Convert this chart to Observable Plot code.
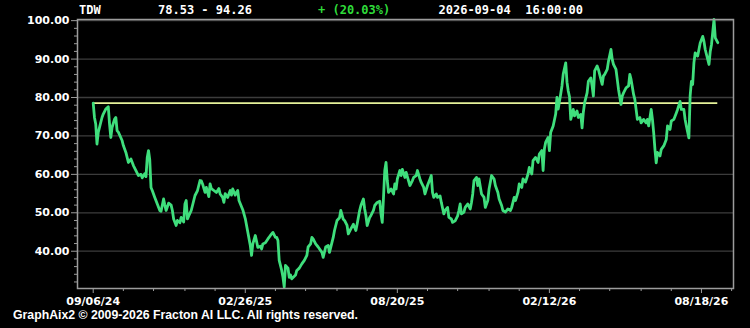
<!DOCTYPE html>
<html>
<head>
<meta charset="utf-8">
<script src="https://cdn.jsdelivr.net/npm/d3@7"></script>
<script src="https://cdn.jsdelivr.net/npm/@observablehq/plot@0.6"></script>
<style>
  html, body { margin: 0; padding: 0; background: #000; }
  #wrap { position: relative; width: 750px; height: 328px; background: #000; overflow: hidden; }
  #wrap svg.plot { position: absolute; left: 0; top: 0; }
  .hdr { position: absolute; top: 4px; font-family: "DejaVu Sans Mono", monospace; font-weight: bold; font-size: 12px; line-height: 12px; color: #fff; white-space: pre; }
  #footer { position: absolute; left: 13px; top: 308.5px; font-family: "Liberation Sans", Arial, sans-serif; font-weight: bold; font-size: 12.2px; line-height: 12.2px; color: #fff; white-space: pre; transform-origin: 0 0; }
</style>
</head>
<body>
<div id="wrap">
  <div class="hdr" style="left:79px">TDW</div>
  <div class="hdr" style="left:158px">78.53 - 94.26</div>
  <div class="hdr" style="left:318px;color:#2fdc3a">+ (20.03%)</div>
  <div class="hdr" style="left:438.5px">2026-09-04  16:00:00</div>
  <div id="footer">GraphAix2 © 2009-2026 Fracton AI LLC. All rights reserved.</div>
</div>
<script>
// ---- data (trading-day index since 09/06/24, closing price) ----
const symbol = "TDW";
const startPrice = 78.53;
const endPrice = 94.26;
const days = [
  0,1,2,3,4,6,7,8,10,12,13,14,15,17,18,19,20,23,24,26,27,28,30,32,34,36,38,39,41,42,43,44,45,46,47,49,51,53,54,56,57,58,60,62,63,64,66,67,69,70,72,73,74,75,76,78,79,81,83,85,86,87,89,90,92,93,94,96,98,100,101,103,104,105,107,109,110,111,113,114,115,116,
  119,121,123,125,126,127,129,131,133,134,135,137,139,141,143,145,146,147,148,150,151,152,153,155,156,157,158,161,162,164,166,168,170,171,173,174,175,177,179,182,183,185,187,188,190,191,192,194,196,197,199,200,202,203,205,207,209,210,212,213,215,216,217,218,220,221,223,224,226,228,229,230,231,232,233,234,235,237,239,240,241,242,244,245,246,248,249,
  252,254,255,257,258,260,261,263,264,266,268,269,270,271,273,274,276,277,279,280,282,283,285,286,288,290,291,292,293,295,296,298,300,301,302,303,305,306,307,309,311,312,314,315,317,319,320,322,323,325,326,328,330,332,333,335,336,338,339,341,342,344,346,347,349,350,352,354,355,357,358,359,360,362,363,364,366,368,369,370,372,373,374,376,377,378,379,380,382,383,385,386,388,389,390,391,393,394,396,397,398,399,401,402,404,405,406,407,409,410,412,413,414,416,417,418,420,421,422,424,426,427,428,430,431,432,433,435,436,438,440,441,442,444,445,446,447,448,449,451,452,454,456,457,459,460,462,464,465,467,468,470,471,472,474,475,476,477,478,479,481,482,483,485,486,487,488,490,491,492,494,495,497
];
const prices = [
  78.53,74.8,73.1,67.9,70.9,73.5,74.8,75.7,77.0,77.6,73.1,69.6,72.2,74.4,74.8,71.4,71.0,68.8,67.5,65.7,64.4,63.1,64.0,62.3,61.0,59.7,60.0,59.1,60.2,59.4,64.4,66.2,63.8,56.6,55.8,54.0,52.3,50.6,50.4,53.6,52.0,50.6,52.5,52.0,50.6,48.4,46.7,48.0,47.4,48.8,47.6,52.3,53.2,48.4,49.2,50.6,51.9,54.5,55.8,58.4,58.3,57.5,55.3,56.6,54.2,57.5,56.3,55.8,55.3,56.3,54.9,54.0,52.7,55.0,54.0,55.8,54.6,56.2,54.6,55.3,55.8,53.2,
  50.8,48.5,45.0,41.5,38.9,41.9,44.1,41.0,41.3,40.6,41.9,42.2,43.2,44.1,44.9,43.6,43.6,42.8,37.6,35.0,33.2,30.7,36.3,35.6,33.2,33.8,32.8,33.8,35.0,35.6,36.7,37.6,38.9,41.1,41.9,43.6,43.2,41.9,41.1,39.7,38.4,41.1,41.5,39.7,42.3,43.6,45.4,48.0,48.7,50.6,48.3,48.0,46.7,44.5,45.8,47.0,45.4,47.0,50.6,51.9,53.6,51.0,49.3,46.7,48.8,49.3,50.6,51.9,52.7,53.0,49.7,47.5,54.0,61.0,63.1,58.4,55.3,56.2,54.9,57.5,56.2,58.8,61.0,59.7,61.3,59.2,60.5,
  57.1,58.4,59.2,59.7,61.0,58.8,57.9,56.6,54.9,57.1,58.8,59.7,55.3,54.0,54.9,54.0,54.4,52.7,49.7,50.6,51.4,48.8,48.4,47.5,47.9,49.2,50.6,52.3,49.7,50.2,51.4,52.3,51.0,52.7,54.9,58.4,59.2,57.1,58.8,54.9,54.0,51.4,53.2,56.2,59.7,58.8,57.1,55.3,53.6,51.9,50.6,50.2,51.0,50.6,51.4,54.0,53.2,55.3,57.5,56.6,58.8,58.0,60.1,61.8,60.1,63.6,64.4,63.1,65.3,66.2,61.0,66.6,68.3,69.6,66.2,70.9,72.6,75.7,80.0,77.0,80.9,83.0,86.1,89.0,84.0,81.7,80.2,74.3,76.9,75.2,76.5,74.8,75.6,72.1,76.1,78.6,81.2,84.2,85.1,83.0,80.4,86.9,88.2,87.3,84.7,83.4,85.6,86.0,87.3,89.4,92.5,89.9,88.6,87.3,84.7,82.1,78.2,80.4,81.2,82.5,83.0,86.0,84.7,80.8,79.5,76.9,74.3,74.8,73.4,74.3,73.4,74.3,72.6,76.9,74.3,70.8,66.5,63.0,65.7,64.8,66.5,67.4,69.1,72.6,71.7,73.9,74.3,76.0,76.9,79.0,76.9,76.9,74.3,72.6,69.5,80.4,84.2,83.4,89.0,91.6,90.8,92.5,94.2,95.9,94.6,92.5,91.2,88.6,92.0,93.8,100.3,95.5,94.26
];
const xTickDays = [0, 121, 242, 363, 484];
const xTickLabels = ["09/06/24", "02/26/25", "08/20/25", "02/12/26", "08/18/26"];
const xMinorDays = [24, 48, 73, 97, 145, 169, 194, 218, 266, 290, 315, 339, 387, 411, 436, 460, 508];
const yTicks = [40, 50, 60, 70, 80, 90, 100];
const yMinor = [32, 34, 36, 38, 42, 44, 46, 48, 52, 54, 56, 58, 62, 64, 66, 68, 72, 74, 76, 78, 82, 84, 86, 88, 92, 94, 96, 98];

const series = days.map((d, i) => ({day: d, price: prices[i]}));
const lastDay = days[days.length - 1];
const labelOf = new Map(xTickDays.map((d, i) => [d, xTickLabels[i]]));

const chart = Plot.plot({
  width: 750,
  height: 328,
  marginLeft: 77,
  marginRight: 17,
  marginTop: 19,
  marginBottom: 40,
  style: {background: "#000", color: "#fff", fontFamily: "DejaVu Sans, sans-serif", fontSize: "11px", fontWeight: "bold", overflow: "visible"},
  x: {domain: [-12.5, 509.5], axis: null, label: null},
  y: {domain: [30.3, 100.3], axis: null, label: null},
  marks: [
    Plot.gridY(yTicks, {stroke: "#3c3c3c", strokeOpacity: 1, strokeWidth: 1.3}),
    Plot.ruleY([startPrice], {x1: 0, x2: lastDay, stroke: "#e6f29a", strokeWidth: 1.6}),
    Plot.line(series, {x: "day", y: "price", stroke: "#3fde7c", strokeWidth: 2.8, strokeLinejoin: "round"}),
    Plot.frame({stroke: "#9c9c9c", strokeWidth: 1.5}),
    Plot.axisY(yTicks, {tickSize: 6, tickPadding: 2, stroke: "#9c9c9c", label: null, tickFormat: d => d.toFixed(2)}),
    Plot.axisY(yMinor, {tickSize: 3, stroke: "#9c9c9c", label: null, tickFormat: () => ""}),
    Plot.axisX(xTickDays, {tickSize: 5, tickPadding: 4, stroke: "#9c9c9c", label: null, tickFormat: d => labelOf.get(d)}),
    Plot.axisX(xMinorDays, {tickSize: 3, stroke: "#9c9c9c", label: null, tickFormat: () => ""})
  ]
});
chart.classList.add("plot");
document.getElementById("wrap").insertBefore(chart, document.getElementById("wrap").firstChild);

// fit footer to its width in the reference
const f = document.getElementById("footer");
const w = f.getBoundingClientRect().width;
f.style.transform = `scaleX(${345 / w})`;
</script>
</body>
</html>
